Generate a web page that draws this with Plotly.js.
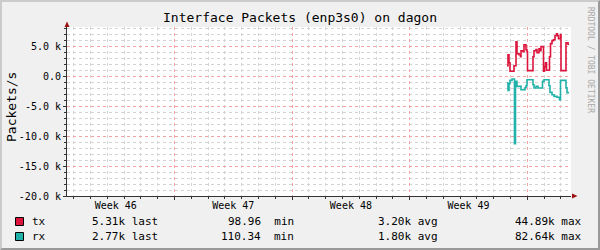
<!DOCTYPE html>
<html>
<head>
<meta charset="utf-8">
<script src="https://cdn.plot.ly/plotly-3.0.1.min.js"></script>
<style>
  html, body { margin: 0; padding: 0; background: #F0F0F0; }
  #wrap { position: relative; width: 600px; height: 250px; }
  #chart { position: absolute; left: 0; top: 0; width: 600px; height: 250px; }
  #frame { position: absolute; left: 0; top: 0; width: 600px; height: 250px; box-sizing: border-box;
           border-top: 2px solid #CBCBCB; border-left: 2px solid #CBCBCB;
           border-right: 2px solid #999999; border-bottom: 2px solid #999999; pointer-events: none; }
</style>
</head>
<body>
<div id="wrap"><div id="chart"></div><div id="frame"></div></div>
<script>
// ---- data (x = days since the start of the 30-day window) ----
var txDays = [26.190, 26.250, 26.310, 26.369, 26.607, 26.726, 26.786, 26.905, 26.994, 27.024,
              27.143, 27.202, 27.321, 27.381, 27.411, 27.738, 27.798, 27.917, 27.976, 28.095,
              28.185, 28.214, 28.363, 28.423, 28.482, 28.542, 28.720, 28.780, 28.869, 28.958,
              29.048, 29.137, 29.196, 29.256, 29.375, 29.405, 29.702, 29.821, 29.881];
var txValues = [1700, 3550, 2200, 800, 1700, 5700, 3700, 3550, 3200, 4200,
                4050, 5200, 4400, 4050, 900, 3200, 4200, 4400, 3900, 4550,
                4200, 4900, 800, 1550, 2200, 950, 3200, 5400, 5900, 6050,
                6700, 7050, 6700, 6200, 6900, 900, 5550, 5310, 5310];
var rxDays = [26.190, 26.250, 26.310, 26.369, 26.488, 26.637, 26.696, 26.786, 27.024, 27.262,
              27.321, 27.381, 27.738, 27.798, 27.917, 28.036, 28.304, 28.393, 28.690, 28.750,
              28.869, 28.988, 29.167, 29.315, 29.375, 29.702, 29.762, 29.881];
var rxValues = [-1170, -2400, -1280, -730, -500, -11300, -900, -1730, -2280, -1950,
                -1620, -620, -1450, -2000, -1730, -2000, -900, -620, -1620, -2730,
                -3120, -3400, -3530, -3950, -730, -1950, -2770, -2770];

var xRange = [0, 30];
var yRange = [-20000, 8170];
var yTickVals = [-20000, -15000, -10000, -5000, 0, 5000];
var yTickText = ["-20.0 k", "-15.0 k", "-10.0 k", "-5.0 k", "0.0", "5.0 k"];
var weekCenters = [2.9, 9.9, 16.9, 23.9];
var weekLabels = ["Week 46", "Week 47", "Week 48", "Week 49"];

var legendNames = ["tx", "rx"];
var legendColors = ["#DC143C", "#20B2AA"];
var legendLast = ["5.31k last", "2.77k last"];
var legendMin = ["98.96  min", "110.34  min"];
var legendAvg = ["3.20k avg", "1.80k avg"];
var legendMax = ["44.89k max", "82.64k max"];

// ---- layout helpers (pixel -> paper) ----
var L = 67, R = 29, T = 27, B = 54, W = 600, H = 250;
var PW = W - L - R, PH = H - T - B;
function PX(px) { return (px - L) / PW; }
function PY(py) { return (H - B - py) / PH; }

var mono = "DejaVu Sans Mono, monospace";

var traces = [
  { x: txDays, y: txValues, type: "scatter", mode: "lines", line: { color: legendColors[0], width: 1.6, shape: "hv" },
    hoverinfo: "skip", showlegend: false },
  { x: rxDays, y: rxValues, type: "scatter", mode: "lines", line: { color: legendColors[1], width: 1.6, shape: "hv" },
    hoverinfo: "skip", showlegend: false },
  { x: [], y: [], xaxis: "x2", yaxis: "y", type: "scatter", mode: "lines", showlegend: false, hoverinfo: "skip" }
];

var annotations = [
  { text: "Packets/s", xref: "paper", yref: "paper", x: PX(11), y: PY(107), textangle: -90,
    xanchor: "center", yanchor: "middle",
    showarrow: false, font: { family: mono, size: 13, color: "#000" } },
  { text: "RRDTOOL / TOBI OETIKER", xref: "paper", yref: "paper", x: PX(591), y: PY(60), textangle: 90,
    xanchor: "center", yanchor: "middle",
    showarrow: false, font: { family: mono, size: 8, color: "#A8A8A8" } }
];
var shapes = [
  // axis arrows
  { type: "path", xref: "paper", yref: "paper",
    path: "M " + PX(64.5) + " " + PY(27) + " L " + PX(67) + " " + PY(21.5) + " L " + PX(69.5) + " " + PY(27) + " Z",
    fillcolor: "#9B1010", line: { width: 0 } },
  { type: "path", xref: "paper", yref: "paper",
    path: "M " + PX(572) + " " + PY(193.5) + " L " + PX(577.5) + " " + PY(196) + " L " + PX(572) + " " + PY(198.5) + " Z",
    fillcolor: "#9B1010", line: { width: 0 } }
];
for (var i = 0; i < legendNames.length; i++) {
  var cy = 221.5 + i * 15;
  shapes.push({ type: "rect", xref: "paper", yref: "paper", x0: PX(15.5), x1: PX(23.5), y0: PY(cy - 4), y1: PY(cy + 4),
                fillcolor: legendColors[i], line: { color: "#000", width: 1 } });
  var f = { family: mono, size: 11, color: "#000" };
  annotations.push({ text: legendNames[i], xref: "paper", yref: "paper", x: PX(30), y: PY(cy), xanchor: "left", yanchor: "middle", showarrow: false, font: f });
  annotations.push({ text: legendLast[i], xref: "paper", yref: "paper", x: PX(90), y: PY(cy), xanchor: "left", yanchor: "middle", showarrow: false, font: f });
  annotations.push({ text: legendMin[i], xref: "paper", yref: "paper", x: PX(296), y: PY(cy), xanchor: "right", yanchor: "middle", showarrow: false, font: f });
  annotations.push({ text: legendAvg[i], xref: "paper", yref: "paper", x: PX(440), y: PY(cy), xanchor: "right", yanchor: "middle", showarrow: false, font: f });
  annotations.push({ text: legendMax[i], xref: "paper", yref: "paper", x: PX(584), y: PY(cy), xanchor: "right", yanchor: "middle", showarrow: false, font: f });
}

var layout = {
  width: W, height: H,
  margin: { l: L, r: R, t: T, b: B, pad: 0 },
  paper_bgcolor: "#F0F0F0",
  plot_bgcolor: "#FFFFFF",
  showlegend: false,
  title: { text: "Interface Packets (enp3s0) on dagon", x: 0.5, xref: "container", xanchor: "center",
           y: 1 - 17 / H, yref: "container", yanchor: "middle", font: { family: mono, size: 13, color: "#000" } },
  xaxis: {
    range: xRange, fixedrange: true,
    tickmode: "array", tickvals: weekCenters, ticktext: weekLabels,
    ticks: "", showgrid: false, zeroline: false,
    showline: true, linecolor: "#333333", linewidth: 1,
    tickfont: { family: mono, size: 10, color: "#000" },
    minor: { tickmode: "linear", tick0: 0.4, dtick: 1, showgrid: true, gridcolor: "#D4D4D4", griddash: "dot", gridwidth: 1,
             ticks: "outside", ticklen: 2, tickcolor: "#333333" }
  },
  xaxis2: {
    range: xRange, overlaying: "x", anchor: "y", side: "bottom", fixedrange: true,
    tickmode: "linear", tick0: 6.4, dtick: 7, showticklabels: false,
    ticks: "outside", ticklen: 3, tickcolor: "#333333",
    showgrid: true, gridcolor: "#F2A4A4", griddash: "dot", gridwidth: 1, zeroline: false, showline: false
  },
  yaxis: {
    range: yRange, fixedrange: true,
    tickmode: "array", tickvals: yTickVals, ticktext: yTickText,
    ticks: "outside", ticklen: 3, tickcolor: "#333333",
    showgrid: true, gridcolor: "#F2A4A4", griddash: "dot", gridwidth: 1, zeroline: false,
    showline: true, linecolor: "#333333", linewidth: 1,
    tickfont: { family: mono, size: 10, color: "#000" },
    minor: { tickmode: "linear", tick0: 0, dtick: 1000, showgrid: true, gridcolor: "#D4D4D4", griddash: "dot", gridwidth: 1,
             ticks: "outside", ticklen: 2, tickcolor: "#333333" }
  },
  annotations: annotations,
  shapes: shapes
};

Plotly.newPlot("chart", traces, layout, { staticPlot: true, displayModeBar: false });
</script>
</body>
</html>
